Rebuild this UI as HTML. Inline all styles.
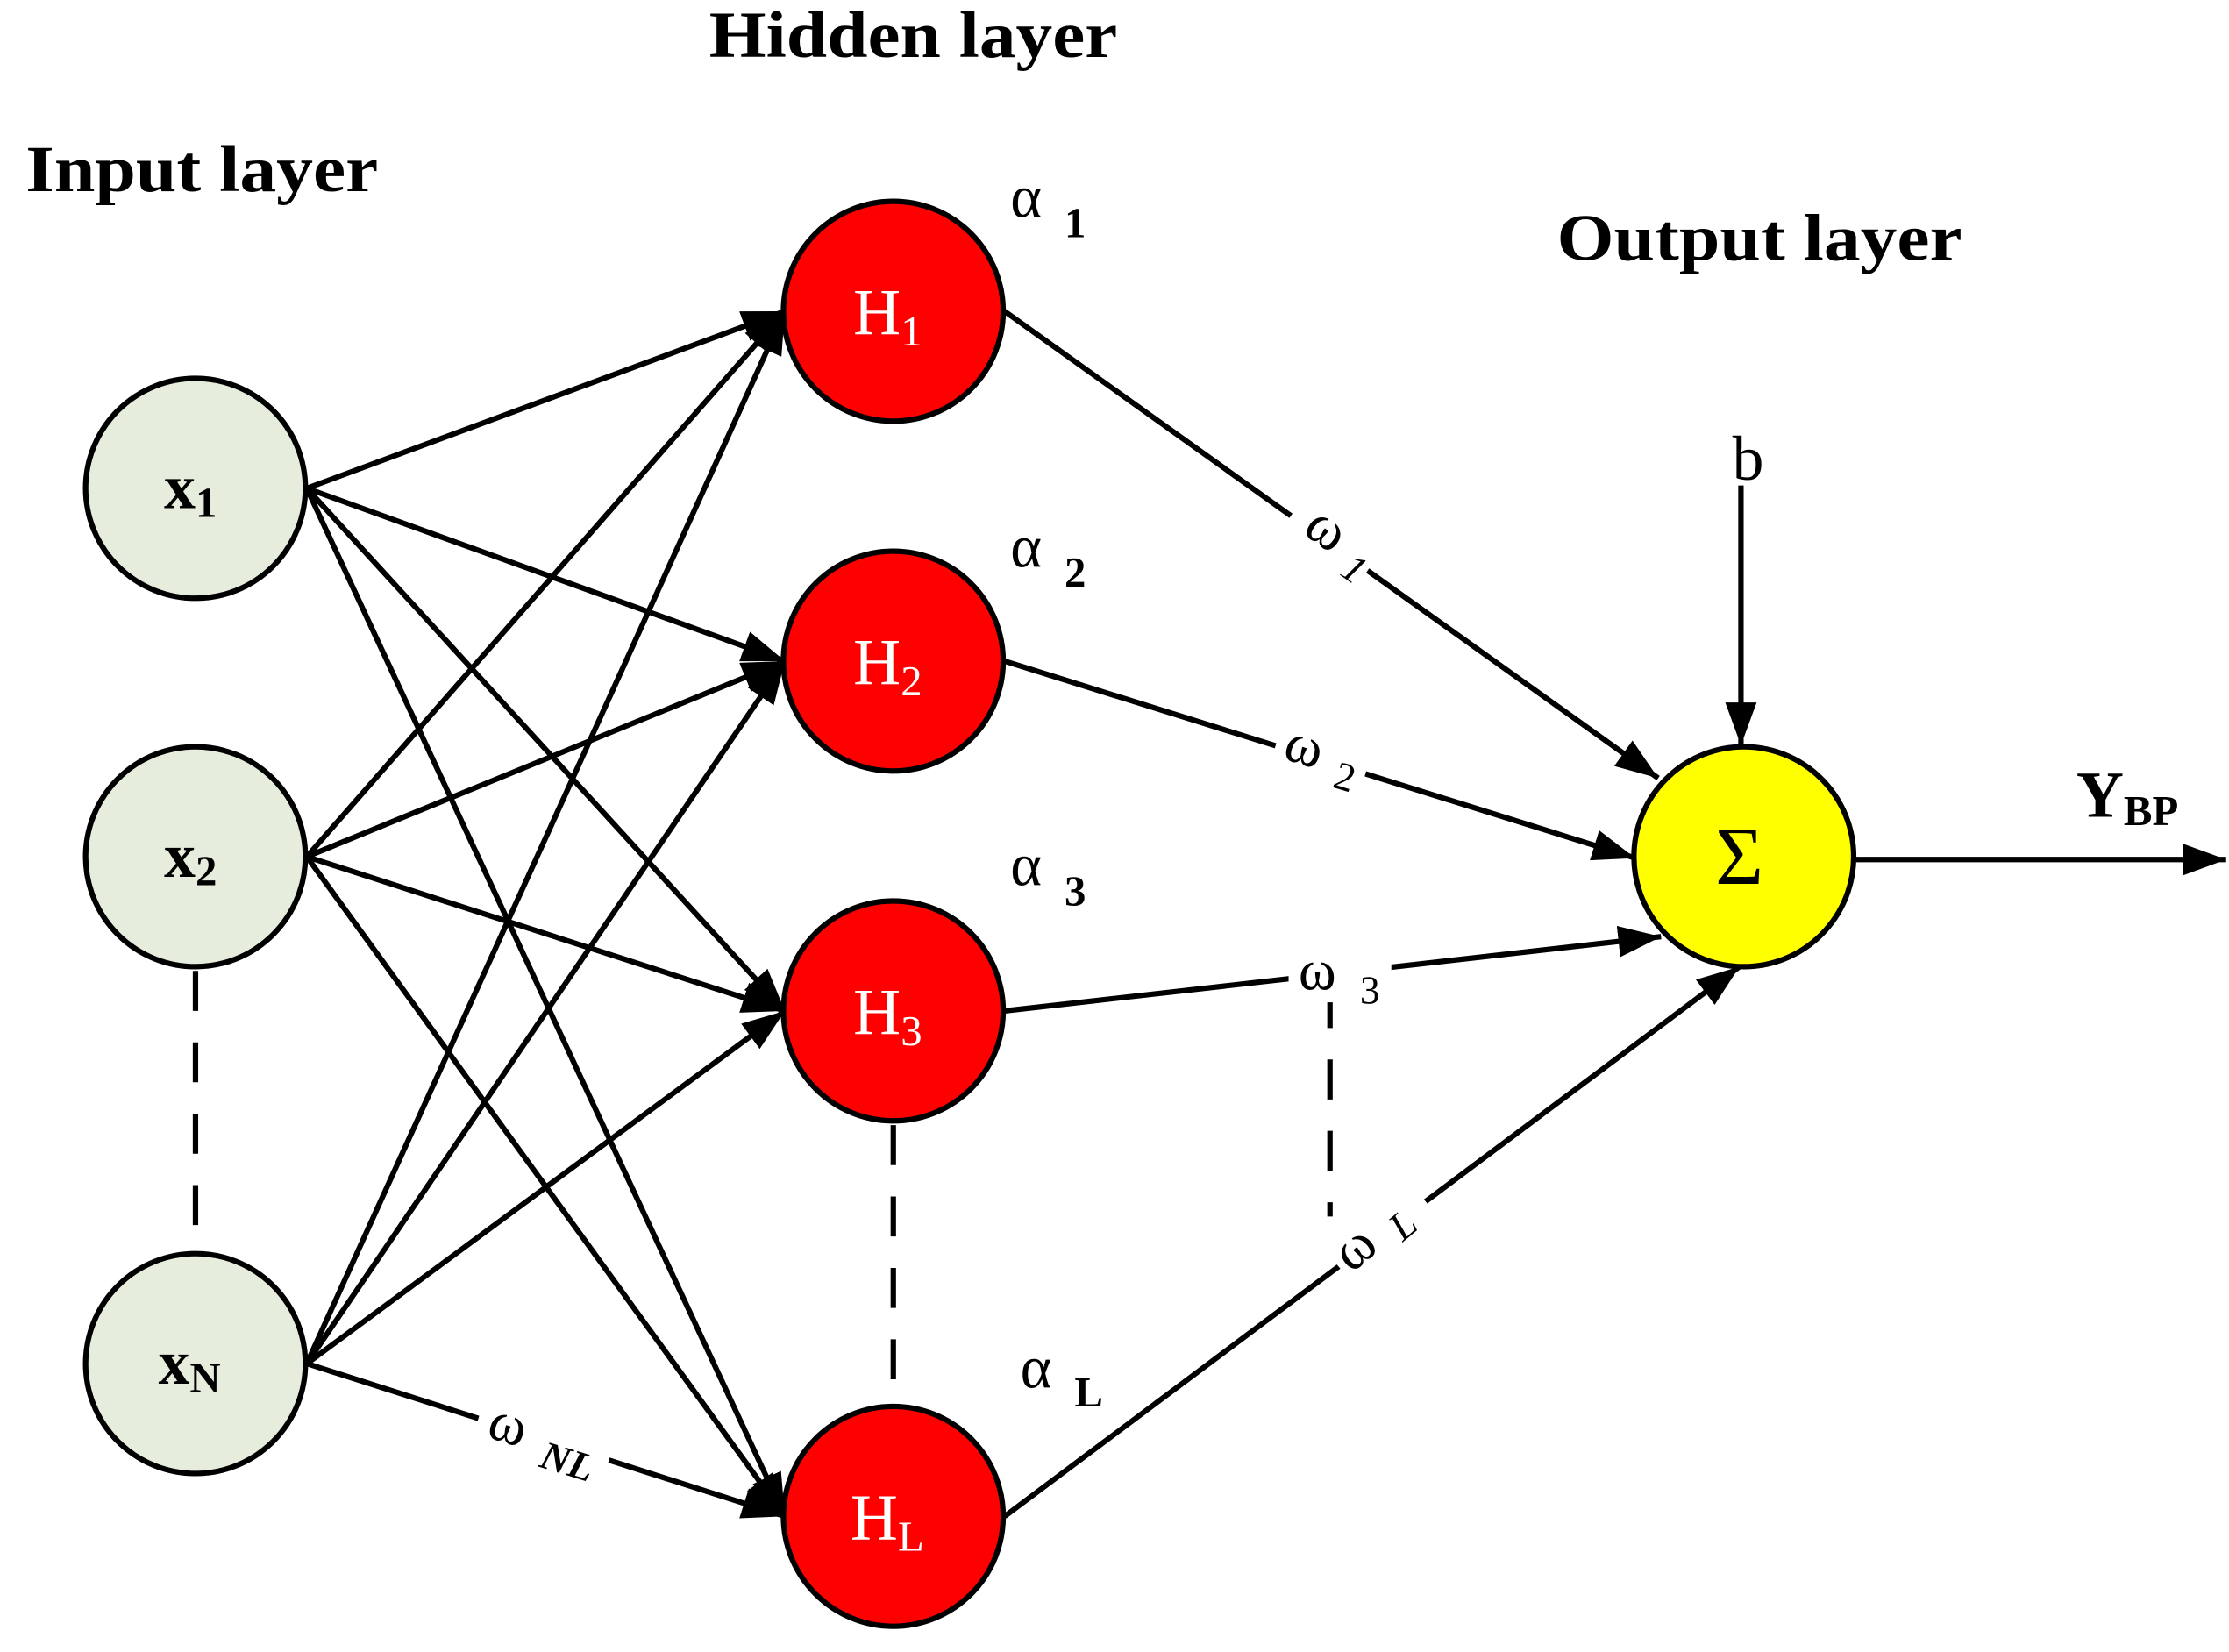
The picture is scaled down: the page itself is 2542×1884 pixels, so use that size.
<!DOCTYPE html>
<html><head><meta charset="utf-8"><style>
html,body{margin:0;padding:0;background:#fff;width:2542px;height:1884px;overflow:hidden}
svg{display:block}
text{font-family:"Liberation Serif",serif}
</style></head><body>
<svg width="2542" height="1884" viewBox="0 0 1562 1157" preserveAspectRatio="none" xmlns="http://www.w3.org/2000/svg">
<defs>
<marker id="ar" viewBox="0 0 10 10" refX="10" refY="5" markerWidth="30" markerHeight="22" orient="auto" markerUnits="userSpaceOnUse" preserveAspectRatio="none">
<path d="M0,0 L10,5 L0,10 z" fill="#000"/>
</marker>
</defs>
<g stroke="#000" stroke-width="3.8" fill="none" marker-end="url(#ar)">
<line x1="215" y1="342" x2="550" y2="218"/>
<line x1="215" y1="342" x2="550" y2="463"/>
<line x1="215" y1="342" x2="550" y2="708"/>
<line x1="215" y1="342" x2="550" y2="1062"/>
<line x1="215" y1="600" x2="550" y2="218"/>
<line x1="215" y1="600" x2="550" y2="463"/>
<line x1="215" y1="600" x2="550" y2="708"/>
<line x1="215" y1="600" x2="550" y2="1062"/>
<line x1="215" y1="955" x2="550" y2="218"/>
<line x1="215" y1="955" x2="550" y2="463"/>
<line x1="215" y1="955" x2="550" y2="708"/>
<line x1="215" y1="955" x2="550" y2="1062"/>
<line x1="704" y1="218" x2="1162" y2="545"/>
<line x1="704" y1="463" x2="1146" y2="601"/>
<line x1="704" y1="708" x2="1164" y2="656"/>
<line x1="704" y1="1062" x2="1219" y2="677"/>
<line x1="1300" y1="602" x2="1560" y2="602"/>
<line x1="1220" y1="340" x2="1220" y2="522"/>
</g>
<g stroke="#000" stroke-width="3.8" stroke-dasharray="28,22">
<line x1="137" y1="680" x2="137" y2="877"/>
<line x1="626" y1="788" x2="626" y2="985"/>
<line x1="932" y1="692" x2="932" y2="852"/>
</g>
<g fill="#fff">
<rect x="900" y="356" width="66" height="42" transform="rotate(35 932 378)"/>
<rect x="893" y="508" width="66" height="42" transform="rotate(17 926 530)"/>
<rect x="903" y="662" width="72" height="40"/>
<rect x="932" y="845" width="76" height="42" transform="rotate(-40 970 866)"/>
<rect x="333" y="986" width="96" height="42" transform="rotate(17 381 1008)"/>
</g>
<g font-size="40" fill="#000">
<text transform="translate(912,373) rotate(35)">ω</text>
<text transform="translate(938,402) rotate(35)" font-size="28" font-style="italic">1</text>
<text transform="translate(898,531) rotate(17)">ω</text>
<text transform="translate(933,551) rotate(17)" font-size="28">2</text>
<text x="910" y="693">ω</text>
<text x="953" y="703" font-size="28">3</text>
<text transform="translate(947,892) rotate(-40)">ω</text>
<text transform="translate(983,870) rotate(-40)" font-size="28" font-style="italic">L</text>
<text transform="translate(340,1006) rotate(17)">ω</text>
<text transform="translate(377,1027) rotate(17)" font-size="28" font-weight="bold" font-style="italic">NL</text>
</g>
<g stroke="#000" stroke-width="3.8">
<circle cx="137" cy="342" r="77" fill="#e6eddc"/>
<circle cx="137" cy="600" r="77" fill="#e6eddc"/>
<circle cx="137" cy="955" r="77" fill="#e6eddc"/>
<circle cx="626" cy="218" r="77" fill="#ff0000"/>
<circle cx="626" cy="463" r="77" fill="#ff0000"/>
<circle cx="626" cy="708" r="77" fill="#ff0000"/>
<circle cx="626" cy="1062" r="77" fill="#ff0000"/>
<circle cx="1222" cy="600" r="77" fill="#ffff00"/>
</g>
<g fill="#000">
<text x="115" y="356" font-size="44" font-weight="bold">x<tspan font-size="30" dy="6">1</tspan></text>
<text x="115" y="614" font-size="44" font-weight="bold">x<tspan font-size="30" dy="6">2</tspan></text>
<text x="111" y="969" font-size="44" font-weight="bold">x<tspan font-size="30" dy="6">N</tspan></text>
<text x="1202" y="619" font-size="58">Σ</text>
</g>
<g fill="#fff" font-size="46">
<text x="598" y="234">H<tspan font-size="30" dy="8">1</tspan></text>
<text x="598" y="479">H<tspan font-size="30" dy="8">2</tspan></text>
<text x="598" y="724">H<tspan font-size="30" dy="8">3</tspan></text>
<text x="596" y="1078">H<tspan font-size="30" dy="8">L</tspan></text>
</g>
<g fill="#000" font-weight="bold" font-size="46">
<text x="497" y="40" textLength="286" lengthAdjust="spacingAndGlyphs">Hidden layer</text>
<text x="18" y="134" textLength="247" lengthAdjust="spacingAndGlyphs">Input layer</text>
<text x="1091" y="182" textLength="284" lengthAdjust="spacingAndGlyphs">Output layer</text>
<text x="1455" y="572">Y<tspan font-size="30" dy="6">BP</tspan></text>
</g>
<g fill="#000" font-size="42">
<text x="708" y="152">α</text><text x="746" y="166" font-size="30" font-weight="bold">1</text>
<text x="708" y="397">α</text><text x="746" y="411" font-size="30" font-weight="bold">2</text>
<text x="708" y="620">α</text><text x="746" y="634" font-size="30" font-weight="bold">3</text>
<text x="715" y="972">α</text><text x="753" y="985" font-size="30" font-weight="bold">L</text>
<text x="1214" y="336" font-size="44">b</text>
</g>
</svg>
</body></html>
